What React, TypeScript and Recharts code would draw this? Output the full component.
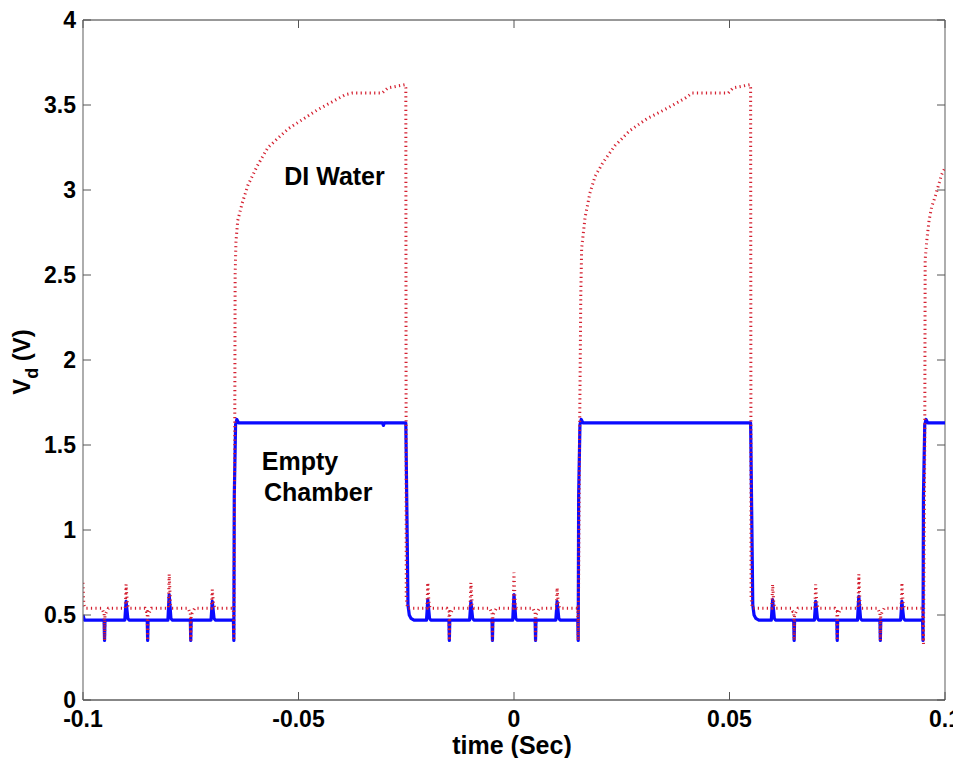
import React from "react";
import { LineChart, Line, XAxis, YAxis, ReferenceLine, ReferenceDot } from "recharts";

// Tick labels
const xTicks = [-0.1, -0.05, 0, 0.05, 0.1];
const yTicks = [0, 0.5, 1, 1.5, 2, 2.5, 3, 3.5, 4];

// Empty chamber (blue, solid) — [time (s), Vd (V)]
const emptyChamber: [number, number][] = [
  [-0.1, 0.5], [-0.0997, 0.47],
  [-0.0951, 0.47], [-0.095, 0.35], [-0.0949, 0.47],
  [-0.0903, 0.47], [-0.09, 0.58], [-0.0896, 0.48], [-0.0893, 0.47],
  [-0.0851, 0.47], [-0.085, 0.35], [-0.0849, 0.47],
  [-0.0803, 0.47], [-0.08, 0.62], [-0.0796, 0.48], [-0.0793, 0.47],
  [-0.0751, 0.47], [-0.075, 0.35], [-0.0749, 0.47],
  [-0.0703, 0.47], [-0.07, 0.58], [-0.0696, 0.48], [-0.0693, 0.47],
  [-0.0651, 0.47], [-0.065, 0.35], [-0.0649, 1.2], [-0.0646, 1.62], [-0.0643, 1.65], [-0.0639, 1.63],
  [-0.0305, 1.63], [-0.0303, 1.615], [-0.0301, 1.63],
  [-0.0251, 1.63], [-0.0248, 1.0], [-0.0246, 0.56], [-0.0243, 0.5], [-0.0239, 0.48], [-0.0232, 0.47],
  [-0.0203, 0.47], [-0.02, 0.59], [-0.0196, 0.48], [-0.0193, 0.47],
  [-0.0151, 0.47], [-0.015, 0.35], [-0.0149, 0.47],
  [-0.0103, 0.47], [-0.01, 0.58], [-0.0096, 0.48], [-0.0093, 0.47],
  [-0.0051, 0.47], [-0.005, 0.35], [-0.0049, 0.47],
  [-0.0003, 0.47], [0.0, 0.62], [0.0004, 0.48], [0.0007, 0.47],
  [0.0049, 0.47], [0.005, 0.35], [0.0051, 0.47],
  [0.0097, 0.47], [0.01, 0.58], [0.0104, 0.48], [0.0107, 0.47],
  [0.0148, 0.47], [0.0149, 0.35], [0.015, 1.2], [0.0153, 1.62], [0.0156, 1.65], [0.016, 1.63],
  [0.0549, 1.63], [0.0552, 1.0], [0.0554, 0.56], [0.0557, 0.5], [0.0561, 0.48], [0.0568, 0.47],
  [0.0597, 0.47], [0.06, 0.59], [0.0604, 0.48], [0.0607, 0.47],
  [0.0649, 0.47], [0.065, 0.35], [0.0651, 0.47],
  [0.0697, 0.47], [0.07, 0.58], [0.0704, 0.48], [0.0707, 0.47],
  [0.0749, 0.47], [0.075, 0.35], [0.0751, 0.47],
  [0.0797, 0.47], [0.08, 0.61], [0.0804, 0.48], [0.0807, 0.47],
  [0.0849, 0.47], [0.085, 0.35], [0.0851, 0.47],
  [0.0897, 0.47], [0.09, 0.58], [0.0904, 0.48], [0.0907, 0.47],
  [0.0948, 0.47], [0.0949, 0.35], [0.095, 1.2], [0.0953, 1.62], [0.0956, 1.65], [0.096, 1.63],
  [0.1, 1.63],
];

// DI water (red, dotted) — [time (s), Vd (V)]
const diWater: [number, number][] = [
  [-0.1, 0.69], [-0.0998, 0.56], [-0.0995, 0.54],
  [-0.0956, 0.54], [-0.0953, 0.52], [-0.0951, 0.52], [-0.095, 0.35], [-0.0949, 0.5], [-0.0945, 0.52], [-0.0941, 0.54],
  [-0.0902, 0.54], [-0.09, 0.68], [-0.0897, 0.56], [-0.0894, 0.54],
  [-0.0856, 0.54], [-0.0853, 0.52], [-0.0851, 0.52], [-0.085, 0.35], [-0.0849, 0.5], [-0.0845, 0.52], [-0.0841, 0.54],
  [-0.0802, 0.54], [-0.08, 0.74], [-0.0797, 0.56], [-0.0794, 0.54],
  [-0.0756, 0.54], [-0.0753, 0.52], [-0.0751, 0.52], [-0.075, 0.35], [-0.0749, 0.5], [-0.0745, 0.52], [-0.0741, 0.54],
  [-0.0702, 0.54], [-0.07, 0.65], [-0.0697, 0.56], [-0.0694, 0.54],
  [-0.0653, 0.54], [-0.0651, 0.52], [-0.065, 0.35], [-0.0648, 1.5], [-0.0647, 2.5], [-0.0645, 2.7],
  [-0.0641, 2.82], [-0.0631, 2.92], [-0.0617, 3.03], [-0.0596, 3.14], [-0.0571, 3.25], [-0.0524, 3.36],
  [-0.0457, 3.47], [-0.0392, 3.56], [-0.0375, 3.57], [-0.0306, 3.57], [-0.0293, 3.6], [-0.0253, 3.62],
  [-0.0251, 3.6], [-0.025, 0.6], [-0.0247, 0.54],
  [-0.0202, 0.54], [-0.02, 0.69], [-0.0197, 0.56], [-0.0194, 0.54],
  [-0.0156, 0.54], [-0.0153, 0.52], [-0.0151, 0.52], [-0.015, 0.35], [-0.0149, 0.5], [-0.0145, 0.52], [-0.0141, 0.54],
  [-0.0102, 0.54], [-0.01, 0.69], [-0.0097, 0.56], [-0.0094, 0.54],
  [-0.0056, 0.54], [-0.0053, 0.52], [-0.0051, 0.52], [-0.005, 0.35], [-0.0049, 0.5], [-0.0045, 0.52], [-0.0041, 0.54],
  [-0.0002, 0.54], [0.0, 0.75], [0.0003, 0.56], [0.0006, 0.54],
  [0.0044, 0.54], [0.0047, 0.52], [0.0049, 0.52], [0.005, 0.35], [0.0051, 0.5], [0.0055, 0.52], [0.0059, 0.54],
  [0.0098, 0.54], [0.01, 0.66], [0.0103, 0.56], [0.0106, 0.54],
  [0.0146, 0.54], [0.0148, 0.52], [0.0149, 0.35], [0.0152, 1.5], [0.0155, 2.39], [0.0157, 2.66],
  [0.0165, 2.84], [0.0176, 2.98], [0.0188, 3.08], [0.0206, 3.16], [0.0234, 3.26], [0.0269, 3.35],
  [0.0309, 3.42], [0.0355, 3.48], [0.0397, 3.54], [0.0413, 3.57], [0.0497, 3.57], [0.0508, 3.6],
  [0.0548, 3.62], [0.0549, 3.6], [0.055, 0.6], [0.0553, 0.54],
  [0.0598, 0.54], [0.06, 0.68], [0.0603, 0.56], [0.0606, 0.54],
  [0.0644, 0.54], [0.0647, 0.52], [0.0649, 0.52], [0.065, 0.35], [0.0651, 0.5], [0.0655, 0.52], [0.0659, 0.54],
  [0.0698, 0.54], [0.07, 0.68], [0.0703, 0.56], [0.0706, 0.54],
  [0.0744, 0.54], [0.0747, 0.52], [0.0749, 0.52], [0.075, 0.35], [0.0751, 0.5], [0.0755, 0.52], [0.0759, 0.54],
  [0.0798, 0.54], [0.08, 0.74], [0.0803, 0.56], [0.0806, 0.54],
  [0.0844, 0.54], [0.0847, 0.52], [0.0849, 0.52], [0.085, 0.35], [0.0851, 0.5], [0.0855, 0.52], [0.0859, 0.54],
  [0.0898, 0.54], [0.09, 0.69], [0.0903, 0.56], [0.0906, 0.54],
  [0.0946, 0.54], [0.0948, 0.52], [0.095, 0.33], [0.0953, 1.5], [0.0954, 2.59], [0.0958, 2.71],
  [0.0963, 2.82], [0.0969, 2.9], [0.0977, 2.96], [0.0984, 3.02], [0.0992, 3.09], [0.1, 3.13],
];

// Annotation positions in data coordinates
const annotations: { t: number; v: number; text: string }[] = [
  { t: -0.0533, v: 3.03, text: "DI Water" },
  { t: -0.0585, v: 1.355, text: "Empty" },
  { t: -0.0580, v: 1.17, text: "Chamber" },
];

const blueData = emptyChamber.map(([t, v]) => ({ t, v }));
const redData = diWater.map(([t, v]) => ({ t, v }));

const FONT = "'Liberation Sans', Arial, Helvetica, sans-serif";
const W = 953;
const H = 750;
const M = { top: 12, right: 16, left: 15, bottom: 18 };
const YW = 60;
const XH = 40;
const PW = W - M.left - M.right - YW; // plot width
const PH = H - M.top - M.bottom - XH; // plot height
const TICK = 8;

const XTick = (props: any) => {
  const { x, y, payload } = props;
  return (
    <g>
      <line x1={x} x2={x} y1={y} y2={y - TICK} stroke="#555" strokeWidth={1} />
      <line x1={x} x2={x} y1={y - PH} y2={y - PH + TICK} stroke="#555" strokeWidth={1} />
      <text x={x} y={y + 27} textAnchor="middle" fontFamily={FONT} fontWeight="bold" fontSize={23} fill="#000">
        {String(payload.value)}
      </text>
    </g>
  );
};

const YTick = (props: any) => {
  const { x, y, payload } = props;
  return (
    <g>
      <line x1={x} x2={x + TICK} y1={y} y2={y} stroke="#555" strokeWidth={1} />
      <line x1={x + PW} x2={x + PW - TICK} y1={y} y2={y} stroke="#555" strokeWidth={1} />
      <text x={x - 7} y={y + 8} textAnchor="end" fontFamily={FONT} fontWeight="bold" fontSize={23} fill="#000">
        {String(payload.value)}
      </text>
    </g>
  );
};

const XLabel = (props: any) => {
  const vb = props.viewBox || {};
  const cx = vb.x + vb.width / 2;
  return (
    <text x={cx - 2} y={vb.y + 54} textAnchor="middle" fontFamily={FONT} fontWeight="bold" fontSize={25} fill="#000">
      time (Sec)
    </text>
  );
};

const YLabel = (props: any) => {
  const vb = props.viewBox || {};
  const cy = vb.y + vb.height / 2 + 2;
  const cx = 22;
  return (
    <text
      transform={`translate(${cx},${cy}) rotate(-90)`}
      textAnchor="middle"
      fontFamily={FONT}
      fontWeight="bold"
      fontSize={24}
      fill="#000"
    >
      <tspan>V</tspan>
      <tspan dy={8} fontSize={18}>d</tspan>
      <tspan dy={-8}> (V)</tspan>
    </text>
  );
};

const AnnText = (text: string) => (props: any) => (
  <text x={props.cx} y={props.cy} textAnchor="start" fontFamily={FONT} fontWeight="bold" fontSize={25} fill="#000">
    {text}
  </text>
);

export default function App() {
  return (
    <div style={{ width: W, height: H, background: "#fff" }}>
      <LineChart width={W} height={H} margin={M}>
        <XAxis
          type="number"
          dataKey="t"
          domain={[-0.1, 0.1]}
          ticks={xTicks}
          allowDataOverflow
          height={XH}
          tickSize={0}
          tickMargin={0}
          tickLine={false}
          tick={<XTick />}
          axisLine={{ stroke: "#111", strokeWidth: 1.2 }}
          interval={0}
          label={<XLabel />}
        />
        <YAxis
          type="number"
          domain={[0, 4]}
          ticks={yTicks}
          allowDataOverflow
          width={YW}
          tickSize={0}
          tickMargin={0}
          tickLine={false}
          tick={<YTick />}
          axisLine={{ stroke: "#777", strokeWidth: 1.2 }}
          interval={0}
          label={<YLabel />}
        />
        <ReferenceLine y={4} stroke="#333" strokeWidth={1} />
        <ReferenceLine x={0.1} stroke="#777" strokeWidth={1.2} />
        <Line
          data={blueData}
          dataKey="v"
          type="linear"
          stroke="#0a0aff"
          strokeWidth={3.2}
          strokeLinejoin="round"
          dot={false}
          activeDot={false}
          isAnimationActive={false}
        />
        <Line
          data={redData}
          dataKey="v"
          type="linear"
          stroke="#d42030"
          strokeWidth={3}
          strokeDasharray="1.2 3.3"
          dot={false}
          activeDot={false}
          isAnimationActive={false}
        />
        {annotations.map((a) => (
          <ReferenceDot key={a.text} x={a.t} y={a.v} r={0} shape={AnnText(a.text)} />
        ))}
      </LineChart>
    </div>
  );
}
